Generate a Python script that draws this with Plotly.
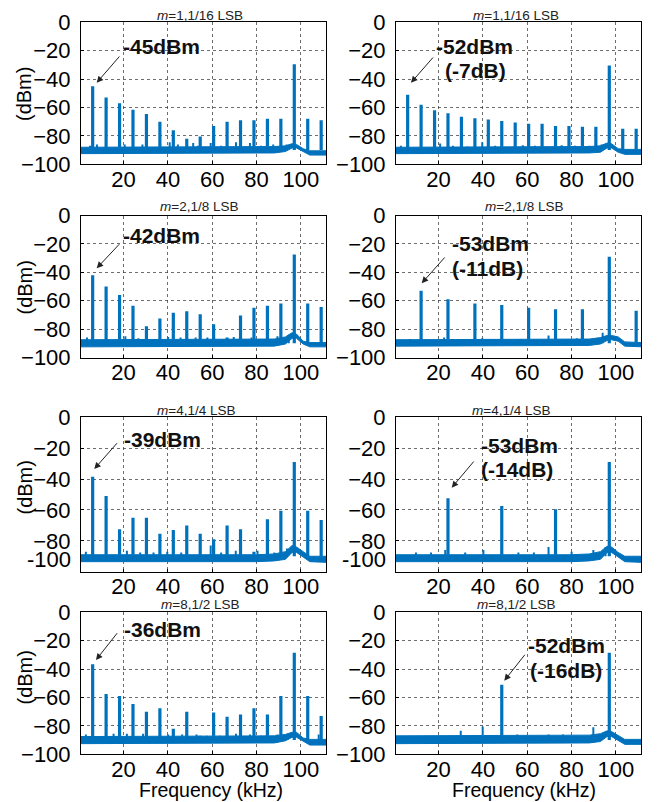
import plotly.graph_objects as go

W, H = 662, 802
BLUE = "#0072BD"
FONT = "Arial, Liberation Sans, sans-serif"

# ---------------- data ----------------
F16 = [6.06, 12.12, 18.19, 24.25, 30.31, 36.38, 42.44, 48.5, 54.56, 60.62,
       66.69, 72.75, 78.81, 84.88, 90.94, 97.0, 103.06, 109.12]
F8 = [12.12, 24.25, 36.38, 48.5, 60.62, 72.75, 84.88, 97.0, 109.12]
F4 = [24.25, 48.5, 72.75, 97.0]
F2 = [48.5, 97.0]

TITLES = ["<i>m</i>=1,1/16 LSB", "<i>m</i>=1,1/16 LSB",
          "<i>m</i>=2,1/8 LSB", "<i>m</i>=2,1/8 LSB",
          "<i>m</i>=4,1/4 LSB", "<i>m</i>=4,1/4 LSB",
          "<i>m</i>=8,1/2 LSB", "<i>m</i>=8,1/2 LSB"]

PEAK_F = [F16, F16, F16, F8, F16, F4, F16, F2]
PEAK_DB = [
    [-45, -53, -57, -61.5, -64.5, -70, -76, -82, -80.5, -73, -70, -69, -69, -68, -68, -29.5, -68, -69],
    [-51, -58, -62, -64, -66.5, -67.5, -68.5, -69.5, -70.5, -71.5, -71.5, -73, -73, -73.5, -73.5, -30.5, -75, -75],
    [-42, -50, -56, -63.5, -78, -72.5, -68.5, -67.5, -69.5, -76.5, -86, -70.5, -65, -63.5, -62, -27.5, -62, -64.5],
    [-53, -59, -62, -63, -65, -66, -66, -29, -67],
    [-38.5, -51, -72.5, -65, -65, -75.5, -73, -70, -75.5, -79, -70, -72.5, -87, -66, -60.5, -29, -60.5, -66.5],
    [-52.5, -57.5, -59.5, -29],
    [-36.5, -57.5, -59, -64.5, -70, -67.5, -82, -70, -87, -70.5, -73.5, -72, -67.5, -72, -59, -28.5, -59, -73],
    [-51, -28.5],
]

SPUR_F = [
    [4.9, 8.0, 20.5, 28.5, 40.8, 44.5, 51.4, 53.5, 59.3, 64.0, 70.7, 77.0, 82.0, 87.5, 93.5],
    [3.0, 20.7, 26.5, 33.0, 39.7, 45.5, 58.0, 63.5, 75.5, 81.5, 88.0, 93.5],
    [3.5, 20.8, 26.7, 33.5, 40.1, 45.7, 52.5, 57.8, 64.0, 69.7, 77.7, 82.5, 89.4, 94.5],
    [7.1, 15.5, 22.5, 31.5, 39.7, 45.0, 56.9, 69.6, 78.0, 82.4, 91.3, 94.0],
    [3.0, 21.5, 27.5, 33.5, 39.7, 46.0, 59.3, 64.0, 70.6, 80.4, 88.0, 93.7],
    [9.8, 16.6, 23.0, 32.0, 40.2, 56.0, 63.0, 69.6, 80.0, 89.8, 95.3],
    [3.0, 15.5, 21.5, 28.8, 40.1, 46.4, 52.9, 57.5, 63.5, 70.7, 77.0, 82.0, 89.4, 94.0, 108.0],
    [10.0, 20.0, 30.0, 39.9, 55.5, 62.0, 69.6, 76.1, 84.0, 89.8],
]
SPUR_DB = [
    [-87, -86, -86, -86, -84.5, -86, -85, -87, -85, -87, -84.5, -85, -87, -86, -86],
    [-87, -85.3, -87, -87.5, -84.5, -87, -86.5, -87, -86.5, -87, -87, -86],
    [-86, -85, -86.5, -87, -85.5, -86, -86, -86, -87, -85.5, -86, -87, -85, -84],
    [-87, -87.5, -86, -87.5, -86.5, -87.5, -87, -84.5, -87.5, -86.5, -87, -82.5],
    [-87, -86.5, -87.5, -87.5, -87, -87.5, -83, -87.5, -86.5, -86.5, -87.5, -85],
    [-87.5, -87.5, -86, -87.5, -86, -87.5, -87.5, -84, -87, -86, -84],
    [-86, -85.5, -85.5, -85.5, -86, -86, -86, -87, -87, -85.5, -86, -87, -86, -85.5, -86],
    [-87.5, -87.5, -83.5, -80.5, -86, -87.5, -86, -86, -87.5, -81],
]

FLOOR_F = [0, 20, 40, 60, 80, 88, 93, 96, 98, 101, 104, 112]
FLOOR_HI = [
    [-88, -88, -88, -88, -88, -87.5, -87, -85.5, -86, -89, -90.5, -90.5],
    [-88, -88, -88, -88, -88, -87.5, -87, -85, -85.5, -89, -89.5, -89.5],
    [-87.5, -87.5, -87.5, -87.5, -87.5, -87, -85.5, -82.5, -83.5, -88.5, -89.5, -89.5],
    [-87.5, -87.5, -87.5, -87.5, -87.5, -87, -86, -84.5, -84.5, -85.5, -89, -89.5],
    [-89, -89, -89, -89, -89, -88.5, -87, -83, -84, -87, -90, -90],
    [-89, -89, -89, -89, -89, -88.5, -87, -83.5, -84, -87.5, -90, -90],
    [-87.5, -87.5, -87.5, -87.5, -87.5, -87, -86, -84.5, -84.5, -88.5, -89.5, -89.5],
    [-87, -87, -87, -87, -87, -86.5, -85.5, -83.5, -84, -86.5, -89.5, -89.5],
]
FLOOR_LO = [
    [-92.5, -92.5, -92.5, -92.5, -92.5, -92, -91, -88.5, -88.5, -91, -93.5, -93.5],
    [-92.5, -92.5, -92.5, -92.5, -92.5, -92, -91.5, -88.5, -88.5, -91.5, -93, -93],
    [-92.5, -92.5, -92.5, -92.5, -92.5, -92, -90.5, -86.5, -86.5, -90.5, -92.5, -92.5],
    [-92, -92, -92, -92, -92, -91.5, -90.5, -88, -87.5, -88.5, -92, -92.5],
    [-93.5, -93.5, -93.5, -93.5, -93.5, -93, -92, -87.5, -87.5, -90.5, -93.5, -94],
    [-93.5, -93.5, -93.5, -93.5, -93.5, -93, -92, -87.5, -87.5, -90.5, -93.5, -94],
    [-92.5, -92.5, -92.5, -92.5, -92.5, -92, -90.5, -88, -88, -91, -93.5, -93.5],
    [-92.5, -92.5, -92.5, -92.5, -92.5, -92, -91, -87.5, -87.5, -90, -93, -93],
]
SPIKE_BASE = -90

X_TICKS = [20, 40, 60, 80, 100]
Y_TICKS = [0, -20, -40, -60, -80, -100]

LABEL_LINES = [
    ["-45dBm"], ["-52dBm", "(-7dB)"], ["-42dBm"], ["-53dBm", "(-11dB)"],
    ["-39dBm"], ["-53dBm", "(-14dB)"], ["-36dBm"], ["-52dBm", "(-16dB)"],
]

# ---------------- layout geometry (pixels) ----------------
COL_X = [(81, 326), (396, 641)]
ROW_Y = [(22.3, 164.3), (215.5, 357.5), (417.3, 571.7), (612.3, 754.3)]
TITLE_POS = [(200, 15), (516, 15), (199, 206.7), (523.5, 206.7),
             (196, 410), (511, 410), (199.5, 604), (515.7, 604)]
LABEL_POS = [
    [(120.7, 46.7)], [(434.3, 46.7), (442.7, 71)],
    [(120.7, 235)], [(450.3, 243.3), (450.3, 268.3)],
    [(121.7, 439)], [(479.3, 445), (479.3, 469)],
    [(121.7, 629.3)], [(526, 645), (527.7, 670)],
]
ARROWS = [
    ((96.7, 82.7), (120.7, 55)), ((411, 82.7), (434.3, 56)),
    ((96.7, 268.3), (120.7, 242.7)), ((421.7, 283.3), (446, 256)),
    ((94.3, 469), (118.3, 441.7)), ((451.7, 487.7), (475, 460)),
    ((96, 660), (118.3, 631.7)), ((504.3, 680.7), (526, 653.3)),
]
YLAB_Y = [94, 287.5, 487.5, 677.5]


def px(x, y):
    return x / W, 1 - y / H


fig = go.Figure()
layout = dict(width=W, height=H,
              margin=dict(l=0, r=0, t=0, b=0, pad=0, autoexpand=False),
              autosize=False,
              paper_bgcolor="white", plot_bgcolor="white", showlegend=False,
              font=dict(family=FONT, color="black"))
annotations = []

for i in range(8):
    r, c = divmod(i, 2)
    sfx = "" if i == 0 else str(i + 1)
    xa, ya = "x" + sfx, "y" + sfx
    fig.add_trace(go.Scatter(x=FLOOR_F, y=FLOOR_LO[i], mode="lines",
                             line=dict(color=BLUE, width=1), xaxis=xa, yaxis=ya,
                             hoverinfo="skip"))
    fig.add_trace(go.Scatter(x=FLOOR_F, y=FLOOR_HI[i], mode="lines", fill="tonexty",
                             fillcolor=BLUE, line=dict(color=BLUE, width=1),
                             xaxis=xa, yaxis=ya, hoverinfo="skip"))
    sx, sy = [], []
    for f, d in zip(SPUR_F[i], SPUR_DB[i]):
        sx += [f, f, None]
        sy += [SPIKE_BASE, d, None]
    fig.add_trace(go.Scatter(x=sx, y=sy, mode="lines", line=dict(color=BLUE, width=2),
                             xaxis=xa, yaxis=ya, hoverinfo="skip"))
    kx, ky = [], []
    for f, d in zip(PEAK_F[i], PEAK_DB[i]):
        kx += [f, f, None]
        ky += [SPIKE_BASE, d, None]
    fig.add_trace(go.Scatter(x=kx, y=ky, mode="lines", line=dict(color=BLUE, width=3.2),
                             xaxis=xa, yaxis=ya))

    x0, x1 = COL_X[c]
    y0, y1 = ROW_Y[r]
    ytv = Y_TICKS if r != 2 else Y_TICKS[:-1]
    axcommon = dict(showline=True, mirror=True, linecolor="black", linewidth=1,
                    showgrid=True, gridcolor="rgba(60,60,60,0.75)", griddash="dot",
                    gridwidth=1, zeroline=False, ticks="inside", ticklen=3,
                    tickcolor="black", automargin=False,
                    tickfont=dict(size=22, family=FONT, color="black"))
    layout["xaxis" + sfx] = dict(domain=[x0 / W, x1 / W], range=[0.8, 111.3],
                                 anchor=ya, tickvals=X_TICKS, ticklabelstandoff=-5,
                                 **axcommon)
    layout["yaxis" + sfx] = dict(domain=[1 - y1 / H, 1 - y0 / H], range=[-100, 0],
                                 anchor=xa, tickvals=ytv, ticklabelstandoff=5,
                                 **axcommon)
    if r == 2:
        ax, ay = px(x0 - 8, 559.3)
        annotations.append(dict(text="-100", x=ax, y=ay, xref="paper", yref="paper",
                                xanchor="right", yanchor="middle", showarrow=False,
                                font=dict(size=22, family=FONT, color="black")))
    tx, ty = px(*TITLE_POS[i])
    annotations.append(dict(text=TITLES[i], x=tx, y=ty, xref="paper", yref="paper",
                            xanchor="center", yanchor="middle", showarrow=False,
                            font=dict(size=13.5, family=FONT, color="#222")))
    for line, (lx, ly) in zip(LABEL_LINES[i], LABEL_POS[i]):
        ax, ay = px(lx, ly)
        annotations.append(dict(text="<b>" + line + "</b>", x=ax, y=ay, xref="paper",
                                yref="paper", xanchor="left", yanchor="middle",
                                showarrow=False,
                                font=dict(size=21, family=FONT, color="#111")))
    (hx, hy), (tx_, ty_) = ARROWS[i]
    ax, ay = px(hx, hy)
    annotations.append(dict(text="", x=ax, y=ay, xref="paper", yref="paper",
                            showarrow=True, ax=tx_ - hx, ay=ty_ - hy,
                            arrowhead=2, arrowsize=1.3, arrowwidth=1,
                            arrowcolor="#222", standoff=0, startstandoff=0))
    if c == 0:
        ax, ay = px(24, YLAB_Y[r])
        annotations.append(dict(text="(dBm)", x=ax, y=ay, xref="paper", yref="paper",
                                textangle=-90, xanchor="center", yanchor="middle",
                                showarrow=False,
                                font=dict(size=20, family=FONT, color="black")))

for cx in (211.5, 524):
    ax, ay = px(cx, 790)
    annotations.append(dict(text="Frequency (kHz)", x=ax, y=ay, xref="paper",
                            yref="paper", xanchor="center", yanchor="middle",
                            showarrow=False, font=dict(size=19.5, family=FONT, color="black")))

layout["annotations"] = annotations
fig.update_layout(**layout)
fig.write_html("out.html")
